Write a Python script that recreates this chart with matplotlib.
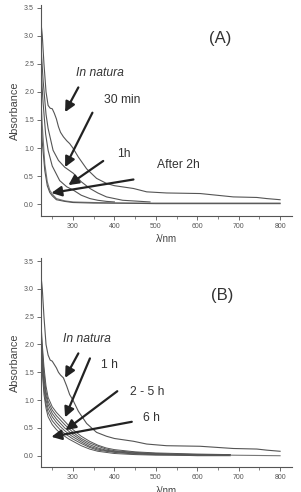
import numpy as np
import matplotlib
matplotlib.use('Agg')
import matplotlib.pyplot as plt
from matplotlib.ticker import MultipleLocator

plt.rcParams['font.family'] = ['Liberation Sans', 'DejaVu Sans']

# ---- panel A: spectra (lambda in nm, absorbance) ----
wl_nat = [222, 226, 230, 235, 240, 245, 250, 255, 260, 265, 270, 277, 285, 292, 300,
          313, 333, 357, 381, 400, 446, 478, 526, 607, 687, 744, 768, 800]
abs_nat_a = [3.3, 3.0, 2.5, 2.0, 1.76, 1.71, 1.70, 1.62, 1.52, 1.38, 1.28, 1.20, 1.13, 1.08, 1.00,
             0.84, 0.63, 0.46, 0.37, 0.33, 0.28, 0.22, 0.20, 0.19, 0.13, 0.12, 0.10, 0.08]
abs_nat_b = [3.3, 3.0, 2.5, 2.0, 1.81, 1.72, 1.70, 1.64, 1.58, 1.50, 1.45, 1.40, 1.25, 1.10, 1.00,
             0.80, 0.58, 0.42, 0.35, 0.31, 0.26, 0.21, 0.18, 0.17, 0.13, 0.12, 0.10, 0.08]

wl_30 = [222, 228, 235, 240, 252, 265, 280, 301, 320, 341, 360, 381, 420, 486]
abs_30 = [2.9, 2.2, 1.6, 1.35, 0.96, 0.78, 0.66, 0.55, 0.40, 0.28, 0.20, 0.13, 0.07, 0.04]

wl_1h = [222, 228, 234, 240, 250, 268, 285, 301, 320, 341, 360, 381, 400]
abs_1h = [2.5, 1.8, 1.25, 0.96, 0.68, 0.42, 0.31, 0.25, 0.16, 0.10, 0.07, 0.05, 0.04]

wl_2h = [222, 226, 232, 238, 244, 250, 260, 280, 300, 350, 400, 500, 600, 700, 800]
abs_2h_1 = [2.0, 1.4, 0.72, 0.40, 0.25, 0.18, 0.10, 0.06, 0.04, 0.03, 0.02, 0.02, 0.02, 0.02, 0.02]
abs_2h_2 = [1.7, 1.1, 0.60, 0.33, 0.21, 0.15, 0.08, 0.05, 0.03, 0.02, 0.02, 0.01, 0.01, 0.01, 0.01]

# ---- panel B: 1 h .. 6 h ----
wl_b = [222, 226, 230, 235, 240, 250, 260, 270, 280, 290, 300, 320, 340, 360, 380, 400, 450, 500, 550, 600, 680]
abs_b = {
    '1 h': [2.5, 2.0, 1.6, 1.25, 1.05, 0.88, 0.78, 0.70, 0.62, 0.54, 0.47, 0.35, 0.26, 0.19, 0.14, 0.11, 0.07, 0.05, 0.04, 0.03, 0.02],
    '2 h': [2.4, 1.9, 1.5, 1.15, 0.98, 0.82, 0.72, 0.64, 0.56, 0.49, 0.42, 0.31, 0.23, 0.17, 0.12, 0.09, 0.06, 0.04, 0.03, 0.02, 0.02],
    '3 h': [2.3, 1.8, 1.4, 1.08, 0.92, 0.76, 0.66, 0.58, 0.50, 0.44, 0.38, 0.28, 0.20, 0.14, 0.10, 0.08, 0.05, 0.03, 0.02, 0.02, 0.01],
    '4 h': [2.2, 1.7, 1.3, 1.00, 0.85, 0.70, 0.60, 0.52, 0.45, 0.39, 0.34, 0.25, 0.17, 0.12, 0.09, 0.07, 0.04, 0.03, 0.02, 0.01, 0.01],
    '5 h': [2.1, 1.6, 1.2, 0.92, 0.78, 0.63, 0.54, 0.46, 0.40, 0.35, 0.30, 0.22, 0.15, 0.10, 0.08, 0.06, 0.03, 0.02, 0.01, 0.01, 0.01],
    '6 h': [2.0, 1.5, 1.1, 0.85, 0.70, 0.56, 0.47, 0.40, 0.35, 0.30, 0.26, 0.18, 0.12, 0.08, 0.06, 0.04, 0.02, 0.01, 0.01, 0.0, 0.0],
}
wl_b_tail = [680, 800]
abs_b_tail = [0.01, 0.0]

# labels and arrows (tail -> head, data units)
notes_a = [('In natura', 365, 2.34, True, (313, 2.08), (281, 1.64)),
           ('30 min', 418, 1.86, False, (347, 1.63), (281, 0.66)),
           ('1h', 422, 0.89, False, (373, 0.77), (289, 0.34)),
           ('After 2h', 554, 0.69, False, (446, 0.44), (248, 0.20))]
notes_b = [('In natura', 333, 2.10, True, (313, 1.84), (281, 1.40)),
           ('1 h', 389, 1.64, False, (341, 1.75), (281, 0.69)),
           ('2 - 5 h', 478, 1.15, False, (407, 1.16), (282, 0.46)),
           ('6 h', 490, 0.67, False, (442, 0.61), (248, 0.34))]

fig = plt.figure(figsize=(3.01, 4.92), dpi=100)
ax_a = fig.add_axes([0.136, 0.561, 0.834, 0.429])
ax_b = fig.add_axes([0.136, 0.050, 0.834, 0.425])

lc = '#555555'
ax_a.plot(wl_nat, abs_nat_a, color=lc, lw=0.8)
ax_a.plot(wl_30, abs_30, color=lc, lw=0.8)
ax_a.plot(wl_1h, abs_1h, color=lc, lw=0.8)
ax_a.plot(wl_2h, abs_2h_1, color='#777777', lw=0.8)
ax_a.plot(wl_2h, abs_2h_2, color=lc, lw=0.8)

ax_b.plot(wl_nat, abs_nat_b, color=lc, lw=0.8)
for k, v in abs_b.items():
    ax_b.plot(wl_b, v, color=lc, lw=0.7)
ax_b.plot(wl_b_tail, abs_b_tail, color='#777777', lw=0.8)

for ax, notes, tag, tx, ty in [(ax_a, notes_a, '(A)', 655, 2.95), (ax_b, notes_b, '(B)', 661, 2.88)]:
    ax.set_xlim(222.7, 828.7)
    ax.set_ylim(-0.21, 3.55)
    ax.xaxis.set_major_locator(MultipleLocator(100))
    ax.xaxis.set_minor_locator(MultipleLocator(50))
    ax.yaxis.set_major_locator(MultipleLocator(0.5))
    ax.set_xticks([300, 400, 500, 600, 700, 800])
    ax.set_yticks(np.arange(0, 3.6, 0.5))
    ax.yaxis.set_major_formatter(matplotlib.ticker.FormatStrFormatter('%.1f'))
    for s in ['top', 'right']:
        ax.spines[s].set_visible(False)
    for s in ['left', 'bottom']:
        ax.spines[s].set_color('#555555')
        ax.spines[s].set_linewidth(0.8)
    ax.tick_params(which='major', length=3, width=0.6, colors='#555555', labelsize=5, pad=2)
    ax.tick_params(which='minor', length=2, width=0.5, colors='#555555')
    ax.set_ylabel('Absorbance', fontsize=7.8, color='#444444', labelpad=3)
    ax.set_xlabel('λ/nm', fontsize=7, color='#444444', labelpad=3)
    ax.text(tx, ty, tag, fontsize=12, color='#333333', ha='center', va='center')
    for txt, x, y, it, tail, head in notes:
        ax.text(x, y, txt, fontsize=8.7, color='#333333', ha='center', va='center',
                style='italic' if it else 'normal')
        ax.annotate('', xy=head, xytext=tail,
                    arrowprops=dict(arrowstyle='-|>,head_length=0.6,head_width=0.3',
                                    lw=1.6, color='#222222', shrinkA=0, shrinkB=0))

fig.savefig('out.png', dpi=100)
